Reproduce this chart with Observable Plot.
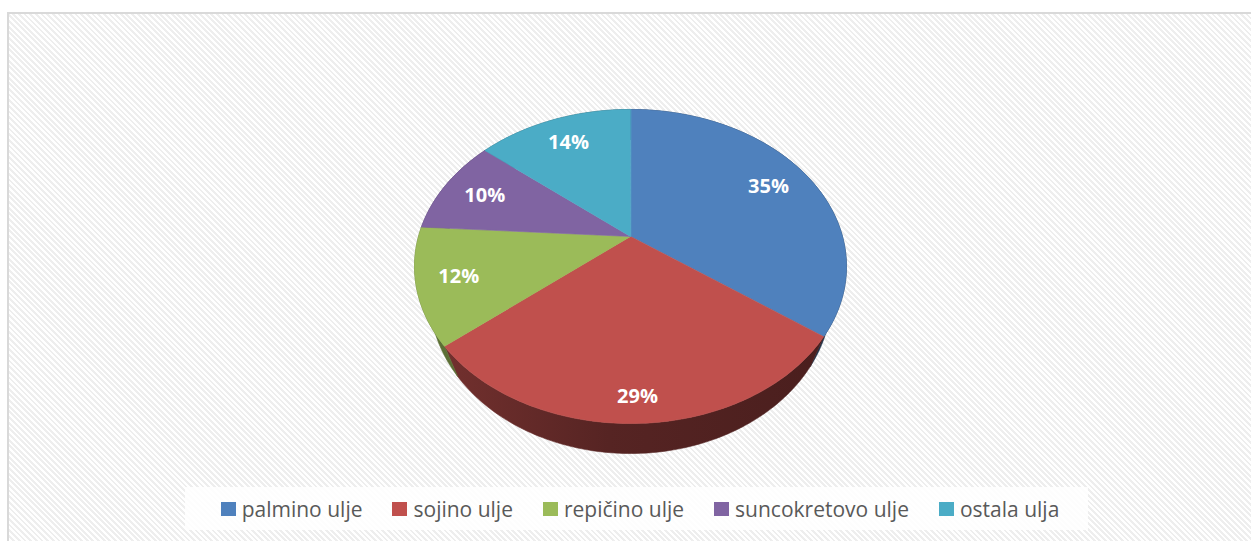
<!DOCTYPE html>
<html><head><meta charset="utf-8">
<script src="https://cdn.jsdelivr.net/npm/d3@7"></script>
<script src="https://cdn.jsdelivr.net/npm/@observablehq/plot@0.6"></script>
<style>
html,body{margin:0;padding:0;background:#fff;overflow:hidden;width:1251px;height:541px;}
#frame{position:absolute;left:7px;top:12px;width:1270px;height:560px;border-top:2px solid #d9d9d9;border-left:2px solid #d9d9d9;
 background:repeating-linear-gradient(45deg,#ffffff 0px,#ffffff 2px,#eeeeee 2px,#eeeeee 4px);}
#chart{position:absolute;left:0;top:0;}
#legend{position:absolute;left:176px;top:473px;width:903px;height:43px;box-sizing:border-box;padding-left:7px;background:rgba(255,255,255,0.85);display:flex;justify-content:center;align-items:center;gap:30px;font-family:"Open Sans",sans-serif;font-size:21px;color:#595959;}
.item{display:flex;align-items:center;white-space:nowrap;}
.sw{width:15px;height:14px;margin-right:6px;}
</style></head><body>
<div id="frame"><div id="chart"></div><div id="legend"></div></div>
<script>
// ---- data ----
const categories = ["palmino ulje", "sojino ulje", "repičino ulje", "suncokretovo ulje", "ostala ulja"];
const shares = [35, 29, 12, 10, 14];
const labels = ["35%", "29%", "12%", "10%", "14%"];
const topColors = ["#4f81bd", "#c0504d", "#9bbb59", "#8064a2", "#4bacc6"];

// ---- geometry (3D pie with perspective) ----
const PERSP = 0.191;          // perspective strength
const DEPTH = 30 / 151.3;     // wall height in y-units
const BOTTOM_X = 0.93;        // bottom rim horizontal shrink (perspective)
function project(thetaDeg, f, drop, sx) {
  const t = thetaDeg * Math.PI / 180;
  const u = f * Math.sin(t), v = -f * Math.cos(t);
  const den = 1 - PERSP * v;
  return {x: sx * u / den, y: v / den + drop};
}
function arc(a0, a1, f, drop, sx = 1) {
  const pts = [];
  const n = Math.max(2, Math.ceil(Math.abs(a1 - a0)));
  for (let i = 0; i <= n; i++) pts.push(project(a0 + (a1 - a0) * i / n, f, drop, sx));
  return pts;
}
const total = d3.sum(shares);
let cum = 0;
const slices = shares.map((s, i) => {
  const a0 = cum / total * 360; cum += s; const a1 = cum / total * 360;
  const mid = (a0 + a1) / 2;
  const vmid = -Math.cos(mid * Math.PI / 180);
  const f = 0.78 + 0.1 * Math.max(0, vmid);
  return {
    i, a0, a1,
    top: [{x: 0, y: 0}, ...arc(a0, a1, 1, 0)],
    side: [...arc(a0, a1, 1, 0), ...arc(a1, a0, 1, DEPTH, BOTTOM_X)],
    label: {...project(mid, f, 0, 1), text: labels[i]}
  };
});
const shadow = arc(0, 360, 1.0, DEPTH + 0.03, 0.97);

const W = 1242, H = 466, CX = 621, CY = 222, KX = 212, KY = 151.3;

const marks = [
  Plot.line(shadow, {x: "x", y: "y", fill: "#000", fillOpacity: 0.35, stroke: "none", curve: "linear-closed", ariaLabel: "shadow"}),
  ...slices.map(s => Plot.line(s.side, {x: "x", y: "y", fill: `url(#side${s.i})`, stroke: `url(#side${s.i})`, strokeWidth: 0.6, curve: "linear-closed"})),
  ...slices.map(s => Plot.line(s.top, {x: "x", y: "y", fill: topColors[s.i], stroke: topColors[s.i], strokeWidth: 0.6, curve: "linear-closed"})),
  Plot.text(slices.map(s => s.label), {x: "x", y: "y", text: "text", fill: "white", fontWeight: "bold", fontSize: 20, fontFamily: "Open Sans"})
];

const svg = Plot.plot({
  width: W, height: H, margin: 0,
  style: {background: "transparent", overflow: "visible"},
  x: {domain: [-CX / KX, (W - CX) / KX], axis: null},
  y: {domain: [(H - CY) / KY, -CY / KY], axis: null},
  marks
});

// defs: gradients for side walls + blur for shadow
const defs = d3.select(svg).insert("defs", ":first-child");
topColors.forEach((c, i) => {
  const base = d3.rgb(c);
  const g = defs.append("linearGradient").attr("id", `side${i}`)
    .attr("gradientUnits", "userSpaceOnUse").attr("x1", CX - KX * 1.02).attr("x2", CX + KX * 1.02).attr("y1", 0).attr("y2", 0);
  const sc = k => d3.rgb(base.r * k, base.g * k, base.b * k).formatHex();
  g.append("stop").attr("offset", "0%").attr("stop-color", sc(0.62));
  g.append("stop").attr("offset", "45%").attr("stop-color", sc(0.45));
  g.append("stop").attr("offset", "100%").attr("stop-color", sc(0.38));
});
defs.append("filter").attr("id", "blur").attr("x", "-20%").attr("y", "-20%").attr("width", "140%").attr("height", "140%")
  .append("feGaussianBlur").attr("stdDeviation", 5);
const sh = svg.querySelector('[aria-label="shadow"]');
if (sh) sh.setAttribute("filter", "url(#blur)");

document.getElementById("chart").appendChild(svg);

// legend
const legend = d3.select("#legend");
categories.forEach((c, i) => {
  const it = legend.append("div").attr("class", "item");
  it.append("div").attr("class", "sw").style("background", topColors[i]);
  it.append("span").text(c);
});
</script>
</body></html>
